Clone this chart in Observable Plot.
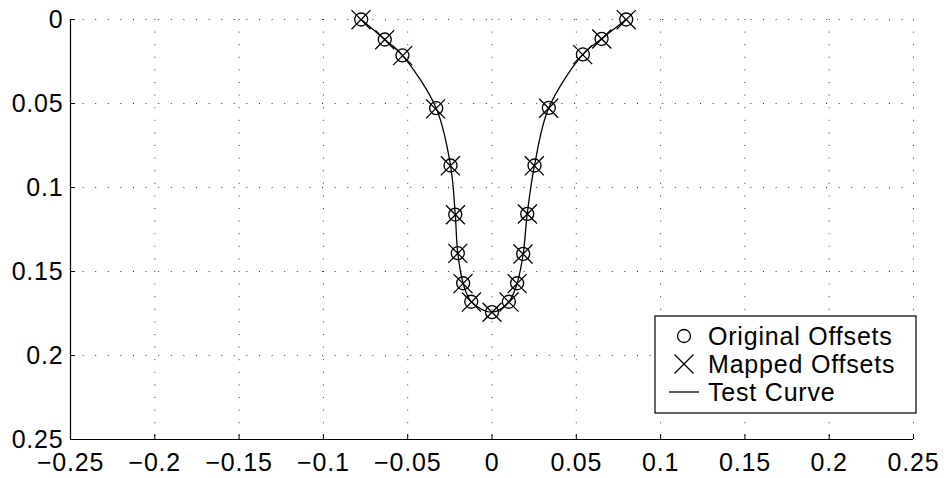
<!DOCTYPE html>
<html>
<head>
<meta charset="utf-8">
<script src="https://cdn.jsdelivr.net/npm/d3@7"></script>
<script src="https://cdn.jsdelivr.net/npm/@observablehq/plot@0.6"></script>
<style>
  html, body { margin: 0; padding: 0; background: #fff; }
  #chart svg { display: block; }
</style>
</head>
<body>
<div id="chart"></div>
<script>
// Axis ticks and their labels
const xTicks = [-0.25, -0.2, -0.15, -0.1, -0.05, 0, 0.05, 0.1, 0.15, 0.2, 0.25];
const xTickLabels = ["\u22120.25", "\u22120.2", "\u22120.15", "\u22120.1", "\u22120.05", "0", "0.05", "0.1", "0.15", "0.2", "0.25"];
const yTicks = [0, 0.05, 0.1, 0.15, 0.2, 0.25];
const yTickLabels = ["0", "0.05", "0.1", "0.15", "0.2", "0.25"];

// Original offsets (circles)
const originalX = [-0.0776, -0.0636, -0.0531, -0.0331, -0.0246, -0.0218, -0.0203, -0.0171, -0.0123, 0.0000,
                   0.0100, 0.0149, 0.0185, 0.0209, 0.0252, 0.0337, 0.0539, 0.0650, 0.0796];
const originalY = [0.0000, 0.0119, 0.0214, 0.0528, 0.0869, 0.1161, 0.1391, 0.1570, 0.1680, 0.1742,
                   0.1680, 0.1570, 0.1395, 0.1157, 0.0869, 0.0526, 0.0208, 0.0115, 0.0000];

// Mapped offsets (crosses)
const mappedX = [-0.0777, -0.0636, -0.0530, -0.0335, -0.0247, -0.0217, -0.0203, -0.0172, -0.0122, 0.0000,
                 0.0101, 0.0149, 0.0184, 0.0210, 0.0251, 0.0336, 0.0538, 0.0651, 0.0796];
const mappedY = [0.0001, 0.0120, 0.0215, 0.0532, 0.0871, 0.1162, 0.1392, 0.1572, 0.1682, 0.1743,
                 0.1682, 0.1572, 0.1396, 0.1158, 0.0871, 0.0528, 0.0209, 0.0116, 0.0001];

// Test curve samples
const curveX = originalX;
const curveY = originalY;

const seriesNames = ["Original Offsets", "Mapped Offsets", "Test Curve"];

const original = originalX.map((x, i) => ({x, y: originalY[i]}));
const mapped = mappedX.map((x, i) => ({x, y: mappedY[i]}));
const curve = curveX.map((x, i) => ({x, y: curveY[i]}));

const W = 944, H = 478;
const mL = 70, mR = 31, mT = 19, mB = 39;
const frameW = W - mL - mR, frameH = H - mT - mB;
const tickLen = 5;
const FONT = "'Liberation Sans', Arial, Helvetica, sans-serif";
const FONT_SIZE = 25;

const gridStyle = {stroke: "#333", strokeWidth: 1, strokeDasharray: "1,11.6"};

const chart = Plot.plot({
  width: W,
  height: H,
  marginLeft: mL,
  marginRight: mR,
  marginTop: mT,
  marginBottom: mB,
  style: {fontFamily: FONT, background: "#fff", color: "#000", overflow: "visible", letterSpacing: "0.8px"},
  x: {domain: [-0.25, 0.25], axis: null},
  y: {domain: [0, 0.25], reverse: true, axis: null},
  marks: [
    // dotted grid
    Plot.ruleX(xTicks, {x: d => d, ...gridStyle}),
    Plot.ruleY(yTicks, {y: d => d, ...gridStyle}),
    // axis lines (left and bottom)
    Plot.ruleX([-0.25], {x: d => d, stroke: "#000", strokeWidth: 1.2}),
    Plot.ruleY([0.25], {y: d => d, stroke: "#000", strokeWidth: 1.2}),
    // inward ticks
    Plot.tickX(xTicks, {x: d => d, stroke: "#000", strokeWidth: 1, insetTop: frameH - tickLen}),
    Plot.tickY(yTicks, {y: d => d, stroke: "#000", strokeWidth: 1, insetRight: frameW - tickLen}),
    // tick labels
    Plot.text(xTicks, {x: d => d, text: (d, i) => xTickLabels[i], frameAnchor: "bottom",
      lineAnchor: "top", dy: 14, fontSize: FONT_SIZE, fill: "#000"}),
    Plot.text(yTicks, {y: d => d, text: (d, i) => yTickLabels[i], frameAnchor: "left",
      textAnchor: "end", lineAnchor: "middle", dx: -7, fontSize: FONT_SIZE, fill: "#000"}),
    // test curve
    Plot.line(curve, {x: "x", y: "y", curve: "catmull-rom", stroke: "#000", strokeWidth: 1.3}),
    // original offsets
    Plot.dot(original, {x: "x", y: "y", r: 6.5, symbol: "circle", fill: "none", stroke: "#000", strokeWidth: 1.3}),
    // mapped offsets
    Plot.dot(mapped, {x: "x", y: "y", r: 8.7, symbol: "times", stroke: "#000", strokeWidth: 1.3})
  ]
});

document.getElementById("chart").appendChild(chart);

// Legend box in the lower right of the axes
const svg = d3.select(chart);
const lg = svg.append("g").attr("transform", "translate(655,316)");
lg.append("rect").attr("width", 261).attr("height", 97)
  .attr("fill", "#fff").attr("stroke", "#000").attr("stroke-width", 1.2);
const rowY = [20, 48, 76];
const symX = 29;
// circle
lg.append("circle").attr("cx", symX).attr("cy", rowY[0]).attr("r", 6.5)
  .attr("fill", "none").attr("stroke", "#000").attr("stroke-width", 1.3);
// cross
lg.append("path").attr("transform", `translate(${symX},${rowY[1]})`)
  .attr("d", d3.symbol(d3.symbolTimes, Math.PI * 8.7 * 8.7)())
  .attr("fill", "none").attr("stroke", "#000").attr("stroke-width", 1.3);
// line sample
lg.append("line").attr("x1", 14).attr("x2", 44).attr("y1", rowY[2]).attr("y2", rowY[2])
  .attr("stroke", "#000").attr("stroke-width", 1.3);
lg.selectAll("text.lbl").data(seriesNames).join("text")
  .attr("class", "lbl")
  .attr("x", 53).attr("y", (d, i) => rowY[i]).attr("dy", "0.35em")
  .attr("text-anchor", "start")
  .attr("font-family", FONT).attr("font-size", FONT_SIZE).attr("fill", "#000")
  .text(d => d);
</script>
</body>
</html>
